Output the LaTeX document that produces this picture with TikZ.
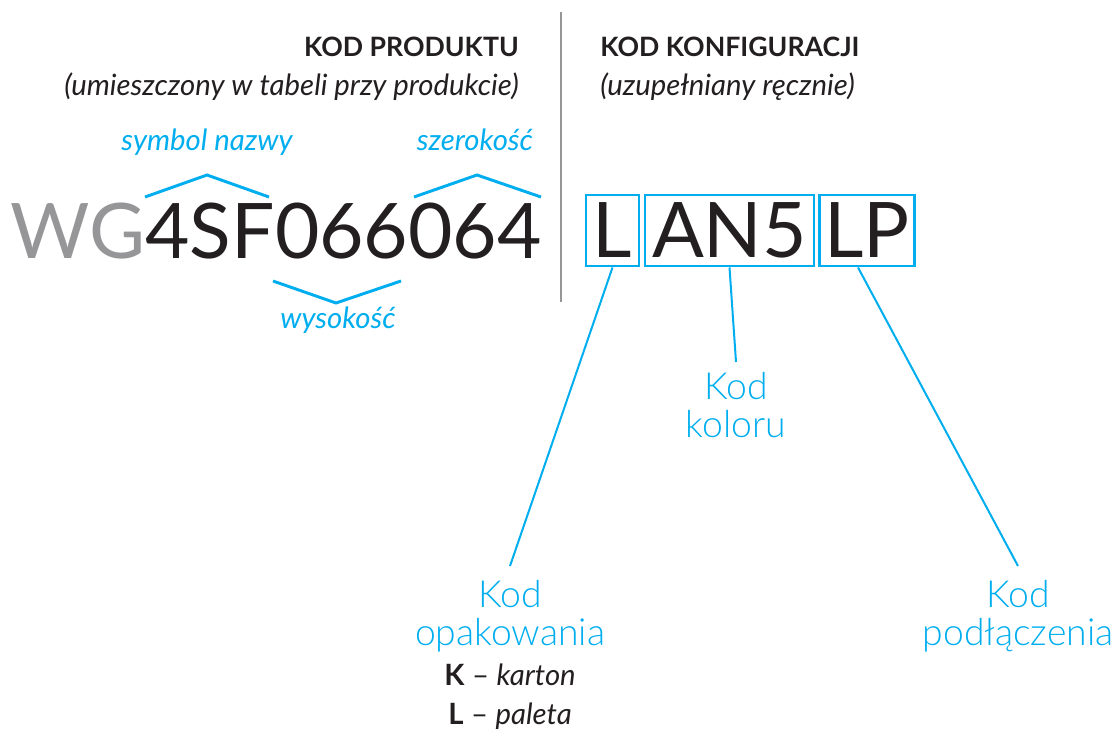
\documentclass[tikz,border=0pt]{standalone}
\usepackage{fontspec}
\setmainfont{Lato}
\newfontfamily\latolight{Lato Light}
\usetikzlibrary{positioning}
\definecolor{kodcyan}{RGB}{0,174,239}
\definecolor{kodgray}{RGB}{150,150,152}
\definecolor{kodblack}{RGB}{35,31,32}
\newcommand\bigcode{\fontsize{57.5}{60}\selectfont}
\newcommand\midlabel{\latolight\fontsize{28}{28}\selectfont}
\newcommand\smalltxt{\fontsize{22}{29}\selectfont}
\newcommand\headtxt{\fontsize{20}{24}\selectfont}
\tikzset{
  codebox/.style = {draw=kodcyan, line width=2.2pt, minimum height=53.25pt,
                    inner sep=0pt, text height=41pt, text depth=0pt,
                    font=\bigcode, text=kodblack},
  brace/.style   = {draw=kodcyan, line width=2.2pt},
  conn/.style    = {draw=kodcyan, line width=1.5pt},
  bluelbl/.style = {text=kodcyan, font=\smalltxt\itshape, inner sep=0pt},
  partlbl/.style = {text=kodcyan, font=\midlabel, align=center, inner sep=0pt}
}

\begin{document}
\begin{tikzpicture}[x=0.75pt, y=-0.75pt]
  \useasboundingbox (0,0) rectangle (1116,731);
  % divider
  \draw[kodgray, line width=2.2pt] (561,12) -- (561,302);
  % headings
  \node[anchor=base east, inner sep=0pt, text=kodblack, font=\headtxt\bfseries]
    (prodhead) at (519,56.7) {KOD PRODUKTU};
  \node[anchor=base east, inner sep=0pt, text=kodblack, font=\smalltxt\itshape]
    (prodsub) at (519,96) {(umieszczony w tabeli przy produkcie)};
  \node[anchor=base west, inner sep=0pt, text=kodblack, font=\headtxt\bfseries]
    (confhead) at (600,56.7) {KOD KONFIGURACJI};
  \node[anchor=base west, inner sep=0pt, text=kodblack, font=\smalltxt\itshape]
    (confsub) at (600,96) {(uzupełniany ręcznie)};
  % product code
  \node[anchor=base east, inner sep=0pt, font=\bigcode, text=kodblack]
    (prodcode) at (542,258) {\textcolor{kodgray}{WG}4SF066064};
  \node[bluelbl, anchor=base] (symlbl) at (207,151) {symbol nazwy};
  \node[bluelbl, anchor=base] (widlbl) at (475,151) {szerokość};
  \node[bluelbl, anchor=base] (heilbl) at (338,328) {wysokość};
  \draw[brace] (145,197) -- (207,175) -- (269,197);
  \draw[brace] (414,197) -- (477,175) -- (541,197);
  \draw[brace] (273,281) -- (336,303) -- (401,281);
  % configuration code
  \node[codebox, minimum width=39.75pt] (pack) at (612.5,230.5) {L};
  \node[codebox, minimum width=126.75pt] (colour) at (729.5,230.5) {AN5};
  \node[codebox, minimum width=71.25pt] (plug) at (867,230.5) {LP};
  % labels
  \node[partlbl, anchor=north, outer ysep=11pt] (packlbl) at (510,566) {Kod\\opakowania};
  \node[partlbl, anchor=north, outer ysep=8pt] (colourlbl) at (736,362) {Kod\\koloru};
  \node[partlbl, anchor=north, outer ysep=11pt] (pluglbl) at (1018,566) {Kod\\podłączenia};
  \node[below=-2pt of packlbl, inner sep=0pt, text=kodblack, font=\smalltxt, align=center]
    (packopts) {\textbf{K} -- \textit{karton}\\\textbf{L} -- \textit{paleta}};
  \draw[conn] (pack.south) -- (packlbl.north);
  \draw[conn] (colour.south) -- (colourlbl.north);
  \draw[conn] (plug.south -| 858,0) -- (pluglbl.north);
\end{tikzpicture}
\end{document}
